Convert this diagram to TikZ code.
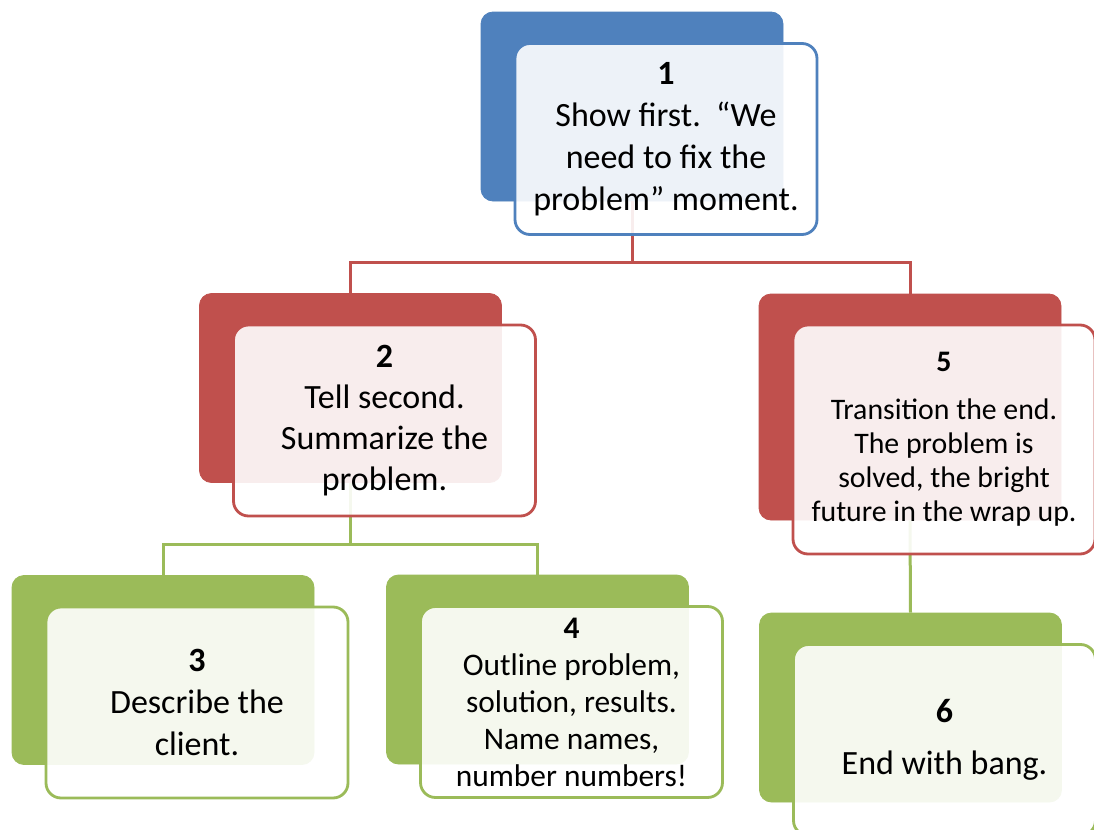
\documentclass[tikz,border=0pt]{standalone}
\usepackage{fontspec}
\setmainfont{Carlito}
\usetikzlibrary{positioning,calc}
\definecolor{accblue}{HTML}{4F81BD}
\definecolor{accred}{HTML}{C0504D}
\definecolor{accgreen}{HTML}{9BBB59}

\begin{document}
\begin{tikzpicture}[x=0.5pt,y=-0.5pt,
  back/.style={fill=#1,draw=#1,rounded corners=6pt,minimum width=151pt,minimum height=94.5pt,inner sep=0pt},
  front/.style={draw=#1,line width=1.4pt,fill=white,fill opacity=0.9,text opacity=1,rounded corners=7.5pt,
                minimum width=151pt,minimum height=95.5pt,inner sep=0pt,align=center},
  link/.style={draw=#1,line width=1.5pt}]

  \fill[white] (0,0) rectangle (1094,830);
  \useasboundingbox (0,0) rectangle (1094,830);

  \def\dx{34}
  \def\dy{32.5}

  %back panels
  \foreach \n/\x/\y/\col in {1/632/106.5/accblue, 2/350.5/388/accred, 3/163/670/accgreen, 4/537.5/669.5/accgreen, 6/910.5/707.5/accgreen}{
    \node[back=\col] (p\n) at (\x,\y) {};
  }
  \node[back=accred,minimum height=113pt] (p5) at (910,407) {};

  %links
  \draw[link=accred] (p1.south) -- ++(0,61) coordinate (j1) -| (p2.north);
  \draw[link=accred] (j1) -| (p5.north);
  \draw[link=accgreen] (p2.south) -- ++(0,62) coordinate (j2) -| (p3.north);
  \draw[link=accgreen] (j2) -| (p4.north);
  \draw[link=accgreen] (p5.south) -- (p6.north);

  %front boxes
  \node[front=accblue,font=\fontsize{17}{21}\selectfont] (t1) at ($(p1)+(\dx,\dy)$)
    {\textbf{1}\\Show first.\ \ “We\\need to fix the\\problem” moment.};
  \node[front=accred,font=\fontsize{17}{20.5}\selectfont] (t2) at ($(p2)+(\dx,\dy)$)
    {\textbf{2}\\Tell second.\\Summarize the\\problem.};
  \node[front=accgreen,font=\fontsize{17}{21}\selectfont] (t3) at ($(p3)+(\dx,\dy)$)
    {\textbf{3}\\Describe the\\client.};
  \node[front=accgreen,font=\fontsize{15.7}{18.5}\selectfont] (t4) at ($(p4)+(\dx,\dy)$)
    {\textbf{4}\\Outline problem,\\solution, results.\\Name names,\\number numbers!};
  \node[front=accred,minimum height=114.5pt,font=\fontsize{14.9}{17}\selectfont] (t5) at ($(p5)+(\dx,\dy)$)
    {\textbf{5}\\[7pt]Transition the end.\\The problem is\\solved, the bright\\future in the wrap up.};
  \node[front=accgreen,font=\fontsize{17}{21}\selectfont] (t6) at ($(p6)+(\dx,\dy)$)
    {\textbf{6}\\[5pt]End with bang.};

\end{tikzpicture}
\end{document}
